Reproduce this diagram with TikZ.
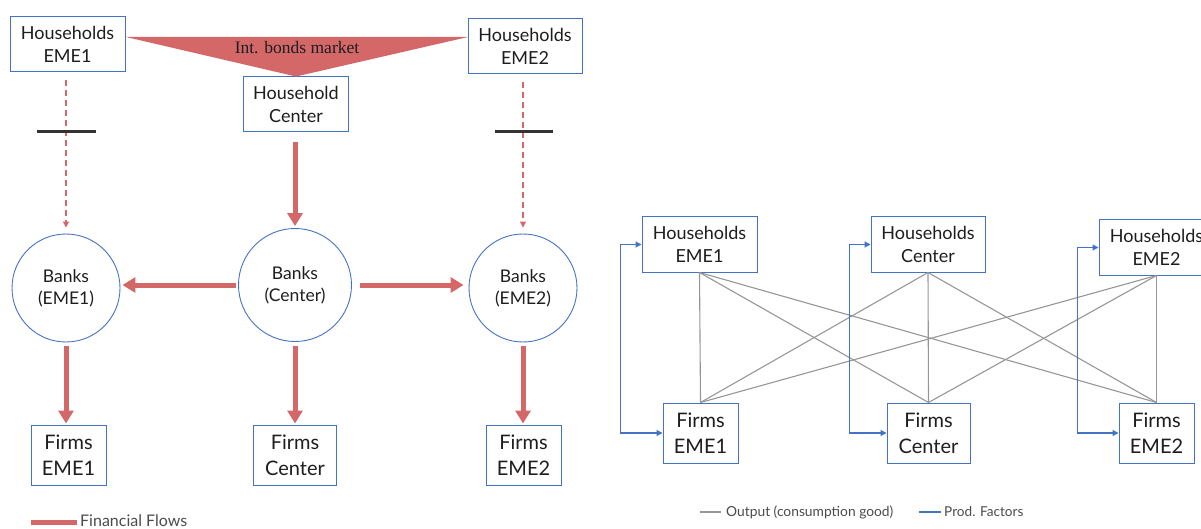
\documentclass[tikz,border=0pt]{standalone}
\usepackage{fontspec}
\setmainfont{Lato}
\newfontfamily\serifb{Liberation Serif}
\usetikzlibrary{arrows.meta}
\definecolor{fred}{RGB}{212,104,104}
\definecolor{bblue}{RGB}{68,114,196}
\definecolor{lgray}{RGB}{150,150,150}
\definecolor{txt}{RGB}{30,30,30}
\begin{document}
\begin{tikzpicture}[x=1pt,y=-1pt,
  box/.style={draw=bblue, line width=1pt, fill=white, align=center, inner sep=0pt, text=txt,
    font=\fontsize{18}{23}\selectfont},
  firm/.style={box, font=\fontsize{20}{26}\selectfont},
  bank/.style={draw=bblue, line width=0.9pt, circle, align=center, inner sep=0pt, text=txt,
    font=\fontsize{17.5}{22}\selectfont},
  flow/.style={fred, line width=5pt, -{Triangle[width=15pt,length=13pt]}},
  dflow/.style={fred, line width=1.3pt, dashed, dash pattern=on 6pt off 4pt, -{Triangle[width=6pt,length=6pt]}},
  bar/.style={line width=3pt, black!80},
  good/.style={lgray, line width=1.1pt},
  pf/.style={bblue, line width=1.2pt, {Triangle[width=6pt,length=6pt]}-{Triangle[width=6pt,length=6pt]}},
  legtxt/.style={anchor=west, inner sep=0pt, text=txt!80}
]
\useasboundingbox (0,0) rectangle (1201,529);

% ---------- left panel ----------
\node[box, minimum width=115pt, minimum height=55pt] (hh1) at (67.5,44.5) {Households\\EME1};
\node[box, minimum width=114pt, minimum height=55pt] (hh2) at (525,46.5) {Households\\EME2};
\node[box, minimum width=105pt, minimum height=55pt] (hc) at (296,104.5) {Household\\Center};
\fill[fred] (126,37) -- (468,37) -- (hc.north) -- cycle;
\node[inner sep=0pt, anchor=base, font=\serifb\fontsize{17.5}{20}\selectfont, text=txt] (ibm) at (297,54) {Int. bonds market};

\node[bank, minimum size=108pt] (b1) at (66,288) {Banks\\(EME1)};
\node[bank, minimum size=113pt] (bc) at (295,285) {Banks\\(Center)};
\node[bank, minimum size=108pt] (b2) at (523,288) {Banks\\(EME2)};

\node[firm, minimum width=75pt, minimum height=60pt] (f1) at (68.5,455) {Firms\\EME1};
\node[firm, minimum width=83pt, minimum height=60pt] (fc) at (295,455) {Firms\\Center};
\node[firm, minimum width=75pt, minimum height=60pt] (f2) at (523.5,455) {Firms\\EME2};

\draw[dflow, shorten <=8pt, shorten >=6pt] (hh1.south -| b1.north) -- (b1.north);
\draw[dflow, shorten <=8pt, shorten >=6pt] (hh2.south -| b2.north) -- (b2.north);
\draw[bar] (37,132) -- (96,132);
\draw[bar] (495,132) -- (553,132);

\draw[flow, shorten <=10pt, shorten >=2pt] (hc.south -| bc.north) -- (bc.north);
\draw[flow, shorten <=2pt, shorten >=2pt] (bc.west) -- (bc.west -| b1.east);
\draw[flow, shorten <=8pt, shorten >=5pt] (bc.east) -- (bc.east -| b2.west);
\draw[flow, shorten <=4pt, shorten >=1pt] (b1.south) -- (b1.south |- f1.north);
\draw[flow, shorten <=4pt, shorten >=1pt] (bc.south) -- (fc.north);
\draw[flow, shorten <=4pt, shorten >=1pt] (b2.south) -- (b2.south |- f2.north);

\draw[fred, line width=5pt] (31,522) -- (77,522);
\node[legtxt, anchor=base west, font=\fontsize{16}{18}\selectfont] (lf) at (80,526) {Financial Flows};

% ---------- right panel ----------
\node[box, minimum width=115pt, minimum height=55pt] (rh1) at (699.5,244.5) {Households\\EME1};
\node[box, minimum width=114pt, minimum height=55pt] (rhc) at (928,244.5) {Households\\Center};
\node[box, minimum width=115pt, minimum height=55pt] (rh2) at (1156.5,247.5) {Households\\EME2};

\node[firm, minimum width=75pt, minimum height=60pt] (rf1) at (700.5,433) {Firms\\EME1};
\node[firm, minimum width=83pt, minimum height=60pt] (rfc) at (928.5,433) {Firms\\Center};
\node[firm, minimum width=75pt, minimum height=60pt] (rf2) at (1156.5,433) {Firms\\EME2};

\foreach \h in {rh1,rhc,rh2}{
  \foreach \f in {rf1,rfc,rf2}{
    \draw[good] (\h.south) -- (\f.north);
  }
}

\draw[pf] (rh1.west) -- ++(-21,0) |- (rf1.west);
\draw[pf] (rhc.west) -- ++(-21,0) |- (rfc.west);
\draw[pf] (rh2.west) -- ++(-21,0) |- (rf2.west);

\draw[good] (700,512) -- (721,512);
\node[legtxt, font=\fontsize{13.8}{15}\selectfont] (lo) at (726,512) {Output (consumption good)};
\draw[bblue, line width=1.2pt] (919,512) -- (941,512);
\node[legtxt, font=\fontsize{13.6}{15}\selectfont] (lp) at (944,512) {Prod. Factors};
\end{tikzpicture}
\end{document}
